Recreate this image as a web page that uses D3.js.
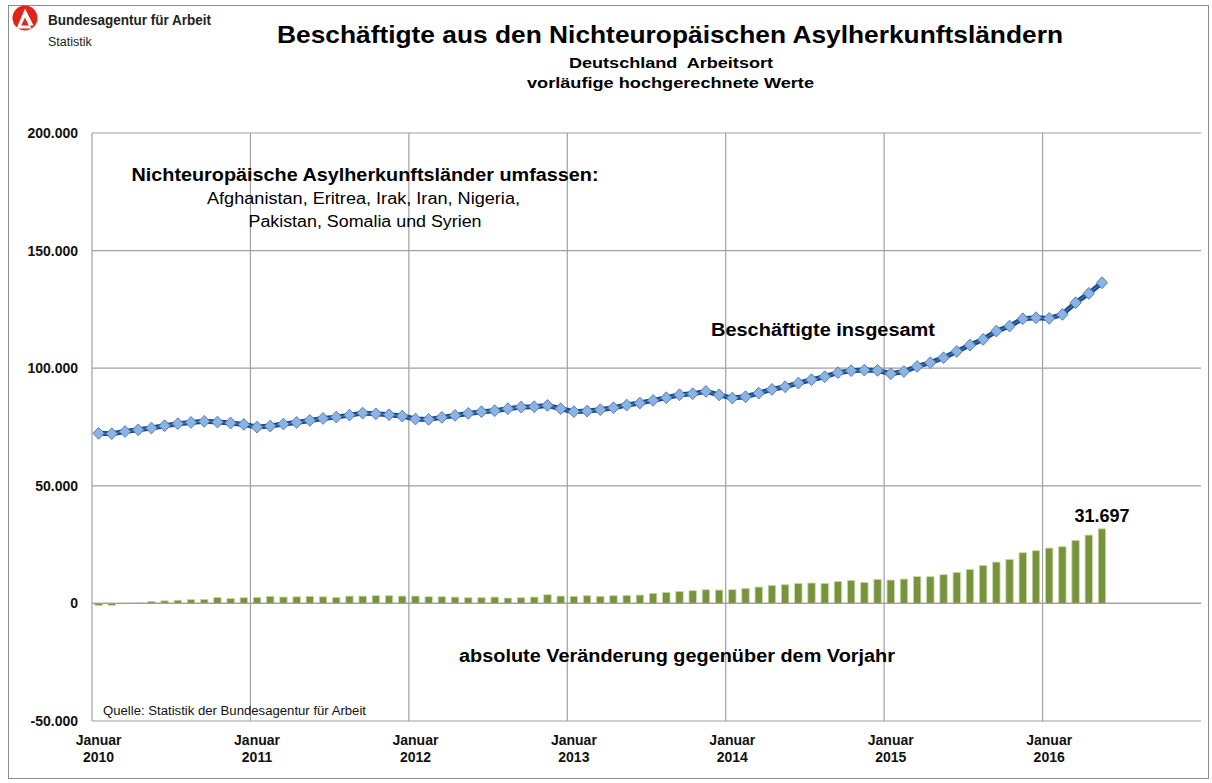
<!DOCTYPE html>
<html>
<head>
<meta charset="utf-8">
<script src="https://cdn.jsdelivr.net/npm/d3@7/dist/d3.min.js"></script>
<style>
  html, body { margin: 0; padding: 0; background: #fff; }
  svg { display: block; font-family: "Liberation Sans", Arial, sans-serif; }
</style>
</head>
<body>
<svg id="chart" width="1212" height="783"></svg>
<script>
// ---------- DATA ----------
const years = [2010, 2011, 2012, 2013, 2014, 2015, 2016];
const monthNames = ["Januar","Februar","März","April","Mai","Juni","Juli","August","September","Oktober","November","Dezember"];
// categories: one per month, Januar 2010 – Dezember 2016
const categories = years.flatMap(y => monthNames.map(m => m + " " + y));

// Beschäftigte insgesamt (Jan 2010 – Mai 2016)
const totalEmployed = [
  72300, 72150, 73100, 73800, 74550, 75550, 76400, 76950, 77400, 77100, 76700, 76100,
  74970, 75400, 76250, 76950, 77800, 78650, 79200, 80050, 80900, 80600, 80200, 79650,
  78380, 78230, 79100, 79930, 80780, 81500, 81920, 82780, 83480, 83620, 84180, 82780,
  81500, 81780, 82350, 83200, 84330, 85180, 86310, 87440, 88720, 89150, 90140, 88650,
  87300, 87870, 89410, 90980, 92120, 93670, 95100, 96380, 98080, 98930, 99200, 99060,
  97650, 98570, 100760, 102340, 104460, 107140, 109820, 112240, 115780, 117910, 121030, 121460,
  121170, 122870, 127830, 131800, 136340
];
// absolute Veränderung gegenüber dem Vorjahr
const yoyChange = [
  -850, -850, 50, 250, 800, 1100, 1350, 1600, 1700, 2550, 2100, 2400,
  2550, 3000, 2700, 2800, 3000, 2800, 2550, 3100, 3100, 3250, 3260, 3120,
  3120, 2830, 2830, 2690, 2410, 2410, 2690, 2270, 2410, 2690, 3680, 3120,
  2980, 3260, 2980, 3260, 3400, 3540, 4250, 4680, 5100, 5390, 5810, 5670,
  5810, 6380, 6950, 7650, 7940, 8500, 8650, 8500, 9350, 9780, 8930, 10200,
  9920, 10350, 11400, 11340, 12190, 13180, 14460, 16160, 17570, 18710, 21540, 22390,
  23530, 24090, 26780, 29050, 31697
];
const yTicks = [-50000, 0, 50000, 100000, 150000, 200000];
const yTickLabels = ["-50.000", "0", "50.000", "100.000", "150.000", "200.000"];
const xTickLabels = years.map(y => ["Januar", String(y)]);
const lastLabel = "31.697";

// ---------- LAYOUT ----------
const svg = d3.select("#chart");
const plot = { left: 92, right: 1201, top: 133, bottom: 721 };

const x = d3.scaleBand().domain(categories).range([plot.left, plot.right]).padding(0);
const y = d3.scaleLinear().domain([-50000, 200000]).range([plot.bottom, plot.top]);
const bw = x.bandwidth();
const cx = i => x(categories[i]) + bw / 2;

function fit(sel, w) {
  const n = sel.node();
  const cur = n.getComputedTextLength();
  if (Math.abs(cur - w) > 1) sel.attr("textLength", w).attr("lengthAdjust", "spacingAndGlyphs");
  return sel;
}

// outer frame
svg.append("rect").attr("x", 8.5).attr("y", 5.5).attr("width", 1200).attr("height", 773)
  .attr("fill", "none").attr("stroke", "#8c8c8c").attr("stroke-width", 1);

// logo
const logo = svg.append("g");
logo.append("circle").attr("cx", 25).attr("cy", 18).attr("r", 12.5).attr("fill", "#e2231a");
logo.append("path")
  .attr("d", "M25,8.5 L33.5,25.5 L28.8,25.5 L25,17.5 L21.2,25.5 L30,25.5 L31.5,28.5 L16.5,28.5 Z")
  .attr("fill", "#fff");
fit(svg.append("text").attr("x", 48).attr("y", 25).attr("font-size", 14).attr("font-weight", "bold")
  .attr("fill", "#222").text("Bundesagentur für Arbeit"), 163);
fit(svg.append("text").attr("x", 48).attr("y", 46).attr("font-size", 12.5)
  .attr("fill", "#222").text("Statistik"), 44);

// titles
fit(svg.append("text").attr("x", 670).attr("y", 43).attr("text-anchor", "middle")
  .attr("font-size", 24).attr("font-weight", "bold").text("Beschäftigte aus den Nichteuropäischen Asylherkunftsländern"), 786);
fit(svg.append("text").attr("x", 671).attr("y", 68).attr("text-anchor", "middle")
  .attr("font-size", 15).attr("font-weight", "bold").attr("xml:space", "preserve").text("Deutschland  Arbeitsort"), 204);
fit(svg.append("text").attr("x", 670.5).attr("y", 88).attr("text-anchor", "middle")
  .attr("font-size", 15).attr("font-weight", "bold").text("vorläufige hochgerechnete Werte"), 287);

// gridlines
const grid = svg.append("g").attr("stroke", "#a0a0a0").attr("stroke-width", 1.2);
grid.selectAll("line.h").data(yTicks).join("line").attr("class", "h")
  .attr("x1", plot.left).attr("x2", plot.right)
  .attr("y1", d => y(d)).attr("y2", d => y(d));
grid.selectAll("line.v").data(years).join("line").attr("class", "v")
  .attr("x1", d => x("Januar " + d)).attr("x2", d => x("Januar " + d))
  .attr("y1", plot.top).attr("y2", plot.bottom);

// y axis labels
svg.append("g").selectAll("text").data(yTicks).join("text")
  .attr("x", 78).attr("y", d => y(d)).attr("dy", "0.36em").attr("text-anchor", "end")
  .attr("font-size", 14).attr("font-weight", "bold").attr("fill", "#111")
  .text((d, i) => yTickLabels[i]);

// x axis labels
const xl = svg.append("g").selectAll("text").data(years).join("text")
  .attr("text-anchor", "middle").attr("font-size", 14).attr("font-weight", "bold").attr("fill", "#111");
xl.append("tspan").attr("x", d => x("Januar " + d) + bw / 2).attr("y", 745).text((d, i) => xTickLabels[i][0]);
xl.append("tspan").attr("x", d => x("Januar " + d) + bw / 2).attr("y", 762).text((d, i) => xTickLabels[i][1]);

// bars
const barW = bw * 0.56;
svg.append("g").selectAll("rect").data(yoyChange).join("rect")
  .attr("x", (d, i) => cx(i) - barW / 2)
  .attr("width", barW)
  .attr("y", d => y(Math.max(0, d)))
  .attr("height", d => Math.abs(y(d) - y(0)))
  .attr("fill", "#77933c")
  .attr("stroke", "#c9d9a6").attr("stroke-width", 0.8);

// zero line redrawn above bars
svg.append("line").attr("x1", plot.left).attr("x2", plot.right).attr("y1", y(0)).attr("y2", y(0))
  .attr("stroke", "#a0a0a0").attr("stroke-width", 1.2);

// line
const line = d3.line().x((d, i) => cx(i)).y(d => y(d));
svg.append("path").datum(totalEmployed).attr("d", line)
  .attr("fill", "none").attr("stroke", "#1c4a85").attr("stroke-width", 5).attr("stroke-linejoin", "round");
svg.append("path").datum(totalEmployed).attr("d", line)
  .attr("fill", "none").attr("stroke", "#3a6db0").attr("stroke-width", 1.5).attr("stroke-linejoin", "round");

// diamond markers
svg.append("g").selectAll("path").data(totalEmployed).join("path")
  .attr("d", (d, i) => {
    const px = cx(i), py = y(d), hw = 5.6, hh = 5.9;
    return `M${px},${py - hh}L${px + hw},${py}L${px},${py + hh}L${px - hw},${py}Z`;
  })
  .attr("fill", "#8db3e2").attr("stroke", "#4f81bd").attr("stroke-width", 1);

// annotations
fit(svg.append("text").attr("x", 365).attr("y", 181).attr("text-anchor", "middle")
  .attr("font-size", 17.5).attr("font-weight", "bold").text("Nichteuropäische Asylherkunftsländer umfassen:"), 467);
fit(svg.append("text").attr("x", 363.5).attr("y", 204).attr("text-anchor", "middle")
  .attr("font-size", 16).text("Afghanistan, Eritrea, Irak, Iran, Nigeria,"), 313);
fit(svg.append("text").attr("x", 365).attr("y", 227).attr("text-anchor", "middle")
  .attr("font-size", 16).text("Pakistan, Somalia und Syrien"), 233);

fit(svg.append("text").attr("x", 823).attr("y", 336).attr("text-anchor", "middle")
  .attr("font-size", 17.5).attr("font-weight", "bold").text("Beschäftigte insgesamt"), 224);
fit(svg.append("text").attr("x", 677).attr("y", 662).attr("text-anchor", "middle")
  .attr("font-size", 17.5).attr("font-weight", "bold").text("absolute Veränderung gegenüber dem Vorjahr"), 436);
svg.append("text").attr("x", cx(yoyChange.length - 1)).attr("y", 522).attr("text-anchor", "middle")
  .attr("font-size", 18).attr("font-weight", "bold").text(lastLabel);

fit(svg.append("text").attr("x", 103).attr("y", 715).attr("font-size", 12)
  .attr("fill", "#111").text("Quelle: Statistik der Bundesagentur für Arbeit"), 263);
</script>
</body>
</html>
